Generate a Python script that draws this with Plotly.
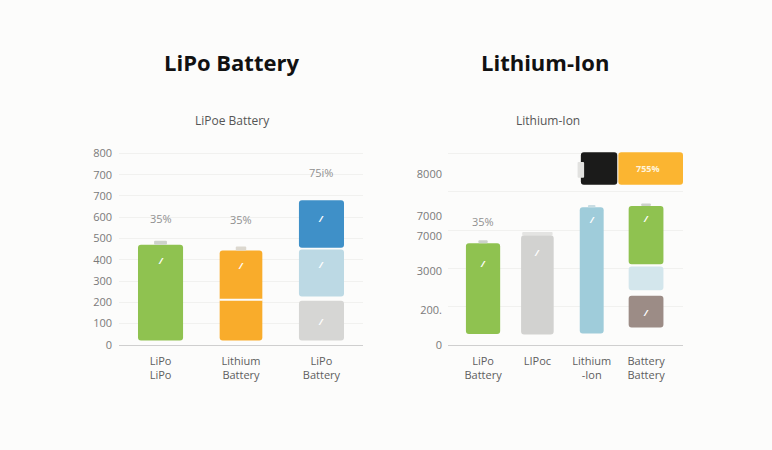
import plotly.graph_objects as go

# ---------------- data ----------------
left_categories = ["LiPo<br>LiPo", "Lithium<br>Battery", "LiPo<br>Battery"]
left_tick_vals = [0, 100, 200, 300, 400, 500, 600, 700, 800, 900]
left_tick_text = ["0", "100", "200", "300", "400", "500", "600", "700", "700", "800"]

left_seg1_base = [21, 21, 21]
left_seg1_top = [471, 444, 208]
left_seg2_idx = [2]
left_seg2_base = [228]
left_seg2_top = [448]
left_seg3_idx = [2]
left_seg3_base = [456]
left_seg3_top = [680]
left_split_idx = [1]
left_split_y = [211]
left_cap_idx = [0, 1]
left_cap_base = [471, 444]
left_cap_top = [489, 462]
left_pct_labels = ["35%", "35%", "75i%"]
left_pct_y = [593, 588, 809]

right_categories = ["LiPo<br>Battery", "LIPo\u0441", "Lithium<br>-Ion", "Battery<br>Battery"]
right_tick_vals = [1827, 3858, 5700, 6751, 8919, 0]
right_tick_text = ["200.", "3000", "7000", "7000", "8000", "0"]
right_grid_vals = [2000, 4000, 6000, 8000, 10000]

right_seg1_base = [574, 543, 594, 914]
right_seg1_top = [5315, 5736, 7193, 2574]
right_seg2_idx = [3]
right_seg2_base = [2858]
right_seg2_top = [4096]
right_seg3_idx = [3]
right_seg3_base = [4213]
right_seg3_top = [7259]
right_cap_idx = [0, 1, 2, 3]
right_cap_base = [5315, 5736, 7193, 7259]
right_cap_top = [5467, 5904, 7310, 7396]
right_pct_labels = ["35%"]
right_pct_idx = [0]
right_pct_y = [6462]

icon_label = "755%"
icon_base = 8376
icon_top = 10066

# ---------------- styles ----------------
GREEN = "#8fc250"
ORANGE = "#f9ac2b"
GREY = "#d6d6d4"
LBLUE = "#bcd9e4"
BLUE = "#3f90c8"
RGREY = "#d2d2d0"
RBLUE = "#9fccda"
PALE = "#d3e6ec"
BROWN = "#9c8c86"
CAP = "#cdd2cb"
TXT = "#5e5e5e"

fig = go.Figure()


def seg(x, base, top, colors, widths, xa, ya, radius=3):
    fig.add_trace(go.Bar(
        x=x, y=[t - b for t, b in zip(top, base)], base=base,
        width=widths, marker=dict(color=colors, line=dict(width=0), cornerradius=radius),
        xaxis=xa, yaxis=ya, showlegend=False, hoverinfo="skip"))


# left panel
seg([0, 1, 2], left_seg1_base, left_seg1_top, [GREEN, ORANGE, GREY], [0.56, 0.53, 0.56], "x", "y")
seg(left_seg2_idx, left_seg2_base, left_seg2_top, [LBLUE], [0.56], "x", "y")
seg(left_seg3_idx, left_seg3_base, left_seg3_top, [BLUE], [0.56], "x", "y")
seg(left_split_idx, left_split_y, [y + 6 for y in left_split_y], ["#fcfcfb"], [0.54], "x", "y", radius=0)
seg(left_cap_idx, left_cap_base, left_cap_top, [CAP, "#dcd8cf"], [0.16, 0.13], "x", "y", radius=1)

# right panel
seg([0, 1, 2, 3], right_seg1_base, right_seg1_top, [GREEN, RGREY, RBLUE, BROWN],
    [0.63, 0.6, 0.44, 0.64], "x2", "y2")
seg(right_seg2_idx, right_seg2_base, right_seg2_top, [PALE], [0.64], "x2", "y2")
seg(right_seg3_idx, right_seg3_base, right_seg3_top, [GREEN], [0.64], "x2", "y2")
seg(right_cap_idx, right_cap_base, right_cap_top, [CAP, "#e4e4e2", "#c9dde3", CAP],
    [0.17, 0.56, 0.14, 0.18], "x2", "y2", radius=1)

# battery icon (black body + orange fill + terminal)
seg([2.135], [icon_base], [icon_top], ["#1b1b1a"], [0.67], "x2", "y2")
seg([3.085], [icon_base], [icon_top], ["#fbb531"], [1.19], "x2", "y2")
seg([1.80], [8731], [9560], ["#e2e2e0"], [0.12], "x2", "y2", radius=1)

anns = []
for i, (t, yv) in enumerate(zip(left_pct_labels, left_pct_y)):
    anns.append(dict(x=i, y=yv, xref="x", yref="y", text=t, showarrow=False,
                     font=dict(size=11, color="#909090")))
for i, t, yv in zip(right_pct_idx, right_pct_labels, right_pct_y):
    anns.append(dict(x=i, y=yv, xref="x2", yref="y2", text=t, showarrow=False,
                     font=dict(size=11, color="#909090")))
anns.append(dict(x=3.03, y=(icon_base + icon_top) / 2, xref="x2", yref="y2", text="<b>" + icon_label + "</b>",
                 showarrow=False, font=dict(size=9, color="#fff4dc")))

# small white bolt marks
bolts = [("x", "y", 0, 395), ("x", "y", 1, 375), ("x", "y", 2, 596), ("x", "y", 2, 380),
         ("x", "y", 2, 110),
         ("x2", "y2", 0, 4260), ("x2", "y2", 1, 4820), ("x2", "y2", 2, 6550),
         ("x2", "y2", 3, 6610), ("x2", "y2", 3, 1720)]
for xa, ya, xv, yv in bolts:
    anns.append(dict(x=xv, y=yv, xref=xa, yref=ya, text="<b><i>/</i></b>", showarrow=False,
                     font=dict(size=9, color="white")))


# titles
def ptxt(x, y, text, size, color):
    return dict(x=x / 772, y=1 - y / 450, xref="paper", yref="paper", text=text,
                xanchor="center", yanchor="middle", showarrow=False,
                font=dict(size=size, color=color, family="Open Sans"))


anns += [
    ptxt(231, 58, "<b>LiPo Battery</b>", 22, "#111111"),
    ptxt(545, 58, "<b>Lithium-Ion</b>", 22, "#111111"),
    ptxt(232, 118, "LiPoe Battery", 12, "#555555"),
    ptxt(548, 118, "Lithium-Ion", 12, "#555555"),
]

ydom = [1 - 349 / 450, 1 - 150 / 450]
fig.update_layout(
    width=772, height=450, margin=dict(l=0, r=0, t=0, b=0),
    paper_bgcolor="#fcfcfb", plot_bgcolor="#fcfcfb",
    barmode="overlay",
    font=dict(family="Open Sans, DejaVu Sans, sans-serif", size=11, color=TXT),
    annotations=anns,
    xaxis=dict(domain=[119 / 772, 363 / 772], range=[-0.516, 2.516],
               tickvals=[0, 1, 2], ticktext=left_categories, showgrid=False,
               showline=True, linecolor="#cfcfcf", linewidth=1, ticks="", zeroline=False,
               tickfont=dict(size=11, color=TXT), ticklabelstandoff=6),
    yaxis=dict(domain=ydom, range=[0, 908], tickvals=left_tick_vals, ticktext=left_tick_text,
               showgrid=True, gridcolor="#f1f1ef", zeroline=False, showline=False, ticks="",
               tickfont=dict(size=11, color="#7a7a7a"), ticklabelstandoff=6),
    xaxis2=dict(domain=[448 / 772, 683 / 772], range=[-0.645, 3.68], anchor="y2",
                tickvals=[0, 1, 2, 3], ticktext=right_categories, showgrid=False,
                showline=True, linecolor="#cfcfcf", linewidth=1, ticks="", zeroline=False,
                tickfont=dict(size=11, color=TXT), ticklabelstandoff=6),
    yaxis2=dict(domain=ydom, range=[0, 10100], anchor="x2", tickvals=right_tick_vals,
                ticktext=right_tick_text, showgrid=False, zeroline=False, showline=False, ticks="",
                minor=dict(tickvals=right_grid_vals, showgrid=True, gridcolor="#f1f1ef", ticks=""),
                tickfont=dict(size=11, color="#7a7a7a"), ticklabelstandoff=5),
)

fig.write_html("out.html")
